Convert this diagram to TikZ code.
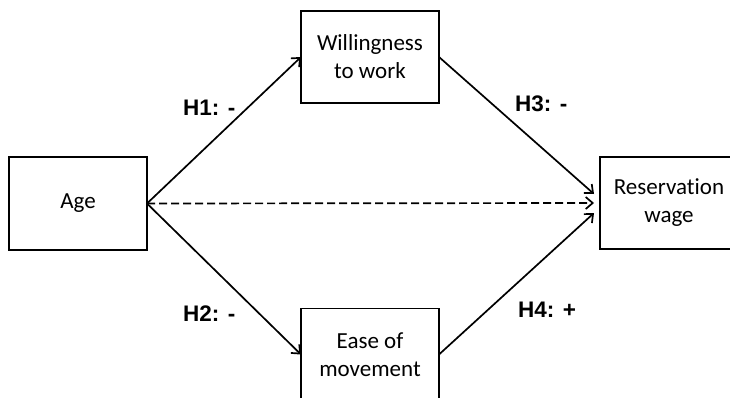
\documentclass[tikz,border=0pt]{standalone}
\usepackage{fontspec}
\setmainfont{Carlito}[Ligatures=NoCommon]
\newfontfamily\labfont{Liberation Sans}
\usetikzlibrary{arrows.meta}
\begin{document}
\begin{tikzpicture}[x=1pt,y=-1pt,
  box/.style={draw,line width=1.8pt,minimum width=138pt,minimum height=92pt,
    inner sep=0pt,outer sep=0pt,align=center,
    font=\fontsize{23}{28}\selectfont},
  hyp/.style={anchor=base west,inner sep=0pt,font=\labfont\bfseries\fontsize{22.5}{26}\selectfont},
  link/.style={line width=1.7pt,-{Straight Barb[length=7pt,width=12pt,line width=1.7pt]}}
]
\useasboundingbox (0,0) rectangle (730,398);
\clip (0,0) rectangle (730,398);
\node[box,minimum height=93pt] (age) at (78,203.5) {Age};
\node[box] (will) at (370,57) {Willingness\\to work};
\node[box] (res) at (669,203) {Reservation\\wage};
\node[box] (ease) at (370,354.5) {Ease of\\movement};
\draw[link] (age.east) -- (will.west);
\draw[link] (age.east) -- (ease.west);
\draw[link,dash pattern=on 8pt off 4pt] (age.east) -- ([xshift=-6pt]res.west);
\draw[link] (will.east) -- ([xshift=-6pt,yshift=9pt]res.west);
\draw[link] (ease.east) -- ([xshift=-6pt,yshift=-10pt]res.west);
\node[hyp] (h1) at (183,116) {H1: -};
\node[hyp] (h3) at (515,112) {H3: -};
\node[hyp] (h2) at (183,321) {H2: -};
\node[hyp] (h4) at (518,317) {H4: +};
\end{tikzpicture}
\end{document}
